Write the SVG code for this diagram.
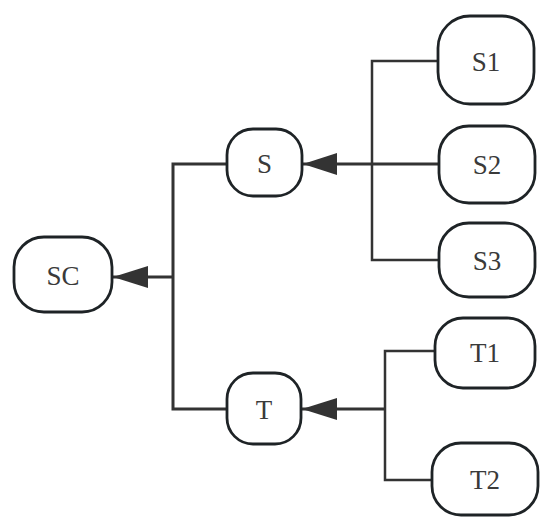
<svg xmlns="http://www.w3.org/2000/svg" width="550" height="529" viewBox="0 0 550 529">
<style>
.box{fill:#fff;stroke:#1e2326;stroke-width:2.8}
.lbl{font-family:"Liberation Serif",serif;font-size:27px;fill:#3a3a3a;text-anchor:middle;dominant-baseline:central}
.ln{fill:none;stroke:#333;stroke-width:3}
.br{fill:none;stroke:#333;stroke-width:2.5}
</style>
<rect width="550" height="529" fill="#fff"/>
<g id="connectors">
<polyline class="ln" points="227,164 173,164 173,409 227,409"/>
<line class="ln" x1="173" y1="277" x2="113" y2="277"/>
<path d="M113,277 L148,266 L148,288 Z" fill="#333"/>
<polyline class="br" points="438,61 372,61 372,260 438,260"/>
<line class="ln" x1="438" y1="164" x2="303" y2="164"/>
<path d="M303,164 L337,153 L337,175 Z" fill="#333"/>
<polyline class="br" points="435,351 385,351 385,480 432,480"/>
<line class="ln" x1="385" y1="409" x2="302" y2="409"/>
<path d="M302,409 L337,398 L337,420 Z" fill="#333"/>
</g>
<g id="SC"><rect class="box" x="14" y="237" width="98" height="75" rx="30"/><text class="lbl" x="63" y="276">SC</text></g>
<g id="S"><rect class="box" x="227" y="129" width="75" height="67" rx="26"/><text class="lbl" x="264.5" y="164">S</text></g>
<g id="T"><rect class="box" x="227" y="373" width="74" height="71" rx="26"/><text class="lbl" x="264" y="410">T</text></g>
<g id="S1"><rect class="box" x="438" y="16" width="96" height="88" rx="32"/><text class="lbl" x="486" y="62">S1</text></g>
<g id="S2"><rect class="box" x="439" y="126" width="96" height="77" rx="30"/><text class="lbl" x="487" y="165">S2</text></g>
<g id="S3"><rect class="box" x="439" y="223" width="96" height="74" rx="30"/><text class="lbl" x="487" y="261">S3</text></g>
<g id="T1"><rect class="box" x="435" y="318" width="100" height="70" rx="28"/><text class="lbl" x="485" y="353">T1</text></g>
<g id="T2"><rect class="box" x="432" y="443" width="106" height="72" rx="29"/><text class="lbl" x="485" y="480">T2</text></g>
</svg>
